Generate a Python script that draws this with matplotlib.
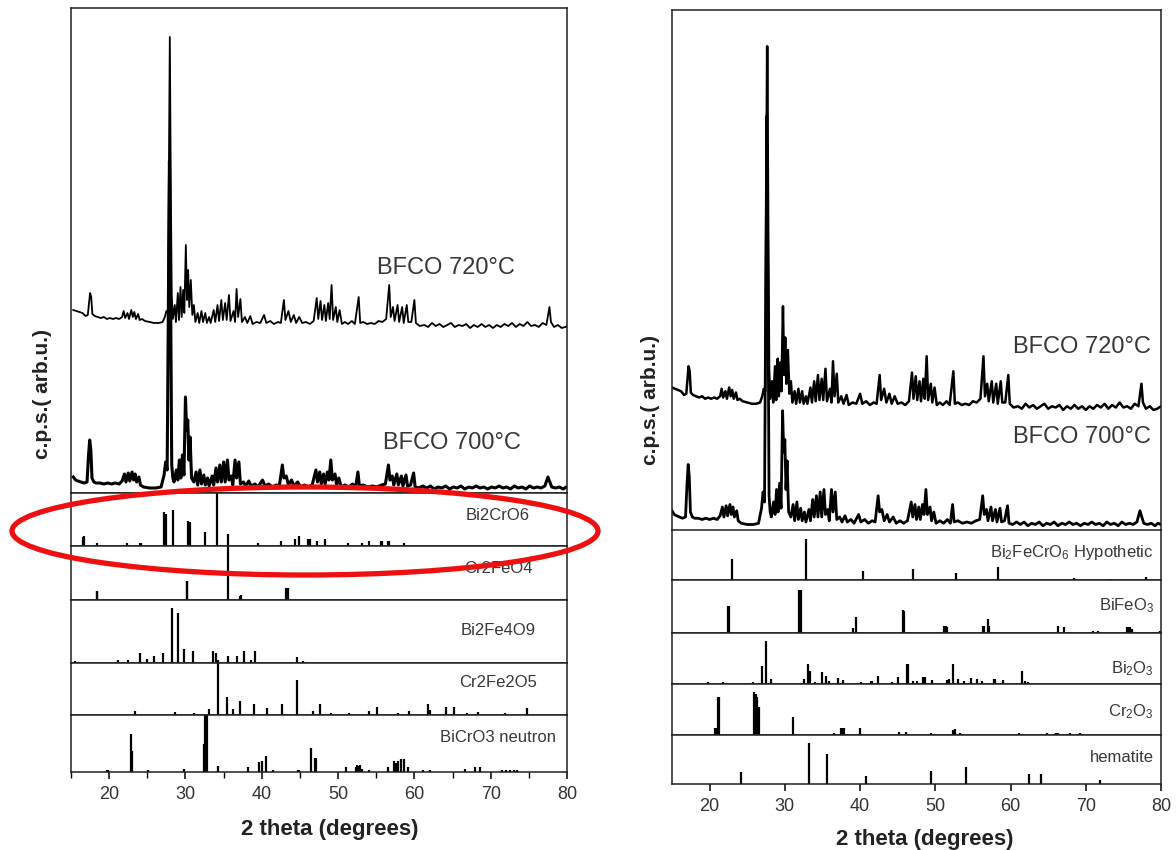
import matplotlib
matplotlib.use('Agg')
import matplotlib.pyplot as plt
from matplotlib.patches import Ellipse

plt.rcParams['font.family'] = ['Liberation Sans', 'DejaVu Sans']
plt.rcParams['mathtext.fontset'] = 'custom'
plt.rcParams['mathtext.rm'] = 'Liberation Sans'
plt.rcParams['mathtext.it'] = 'Liberation Sans:italic'

# ---- measured patterns (2theta, intensity in arb. units) ----
tth_720 = [15.0, 15.4, 15.8, 16.2, 16.6, 16.9, 17.2, 17.35, 17.5, 17.8, 18.2, 18.6, 19.0, 19.4, 19.8,
           20.2, 20.6, 21.0, 21.4, 21.6, 21.8, 22.1, 22.3, 22.6, 22.8, 23.0, 23.2, 23.5, 23.7, 24.0,
           24.4, 25.0, 25.6, 26.2, 26.7, 27.0, 27.2, 27.4, 27.65, 27.8, 27.9, 28.05, 28.3, 28.45, 28.7,
           28.85, 29.05, 29.2, 29.4, 29.55, 29.75, 29.9, 30.05, 30.2, 30.4, 30.6, 30.8, 31.0, 31.3, 31.5,
           31.8, 32.0, 32.3, 32.5, 32.8, 33.0, 33.4, 33.6, 33.9, 34.1, 34.4, 34.6, 34.9, 35.1, 35.4,
           35.6, 36.0, 36.2, 36.4, 36.6, 36.9, 37.1, 37.5, 37.8, 38.2, 38.5, 39.0, 39.5, 40.0, 40.3,
           40.8, 41.3, 41.8, 42.2, 42.6, 42.8, 43.2, 43.5, 43.9, 44.2, 44.6, 45.0, 45.5, 46.0, 46.5,
           46.9, 47.1, 47.4, 47.6, 47.9, 48.1, 48.4, 48.6, 48.85, 49.05, 49.4, 49.6, 49.9, 50.2, 50.6,
           51.0, 51.5, 51.9, 52.4, 52.6, 53.0, 53.5, 54.0, 54.5, 55.0, 55.5, 56.0, 56.4, 56.6, 56.9,
           57.1, 57.5, 57.7, 58.1, 58.3, 58.7, 58.9, 59.3, 59.7, 59.9, 60.4, 61.0, 61.5, 62.0, 62.5,
           63.0, 63.5, 64.0, 64.5, 65.0, 65.5, 66.0, 66.5, 67.0, 67.5, 68.0, 68.5, 69.0, 69.5, 70.0,
           70.5, 71.0, 71.5, 72.0, 72.5, 73.0, 73.5, 74.0, 74.5, 75.0, 75.5, 76.0, 76.5, 77.0, 77.4,
           77.6, 78.0, 78.5, 79.0, 79.5, 80.0]
int_720 = [15, 14, 13, 12, 9, 10, 32, 28, 11, 9, 8, 7, 8, 6, 7,
           6, 7, 6, 8, 14, 7, 12, 6, 15, 8, 13, 6, 11, 5, 6,
           4, 3, 2, 2, 3, 8, 14, 12, 288, 120, 30, 6, 20, 3, 32,
           5, 38, 8, 35, 12, 80, 25, 55, 18, 45, 10, 20, 3, 12, 2,
           14, 3, 12, 2, 8, 2, 15, 3, 20, 4, 25, 5, 22, 5, 30,
           4, 14, 3, 36, 8, 26, 3, 8, 2, 9, 1, 3, 2, 10, 2,
           4, 1, 3, 2, 25, 5, 14, 3, 10, 2, 8, 2, 3, 1, 4,
           27, 6, 24, 5, 20, 4, 22, 6, 40, 5, 18, 3, 15, 1, 3,
           1, 4, 1, 28, 2, 3, 1, 2, 1, 4, 3, 6, 40, 8, 18,
           4, 20, 3, 18, 2, 20, 3, 3, 25, 2, -1, 0, -2, 2, -1,
           1, -2, 0, 2, -2, 0, -1, 1, -3, 0, -2, 1, -2, 0, -3,
           0, -2, 1, -1, 2, -2, 1, -1, 3, -1, 0, -2, 2, 0, 18,
           3, -2, 0, -3, -2, 0]

tth_700 = [15.0, 15.3, 15.6, 16.0, 16.4, 16.8, 17.0, 17.15, 17.3, 17.45, 17.7, 18.0, 18.5, 19.0, 19.5,
           20.0, 20.5, 21.0, 21.4, 21.7, 21.9, 22.2, 22.4, 22.7, 22.9, 23.1, 23.3, 23.6, 23.8, 24.2,
           25.0, 25.8, 26.5, 26.9, 27.1, 27.3, 27.6, 27.75, 27.9, 28.05, 28.2, 28.5, 28.7, 28.9, 29.1,
           29.3, 29.5, 29.7, 29.85, 30.0, 30.15, 30.3, 30.5, 30.8, 31.1, 31.3, 31.6, 31.8, 32.1, 32.3,
           32.6, 32.8, 33.2, 33.4, 33.7, 33.9, 34.2, 34.4, 34.7, 34.9, 35.2, 35.4, 35.7, 35.9, 36.2,
           36.4, 36.7, 36.9, 37.3, 37.6, 38.0, 38.3, 38.8, 39.2, 39.8, 40.1, 40.6, 41.1, 41.6, 42.0,
           42.4, 42.6, 42.9, 43.2, 43.6, 43.9, 44.4, 44.8, 45.3, 45.8, 46.3, 46.8, 47.0, 47.3, 47.5,
           47.8, 48.0, 48.3, 48.5, 48.75, 48.95, 49.3, 49.5, 49.8, 50.1, 50.6, 51.1, 51.6, 52.0, 52.3,
           52.5, 53.0, 53.6, 54.2, 54.8, 55.4, 55.9, 56.3, 56.5, 56.8, 57.0, 57.4, 57.6, 58.0, 58.2,
           58.6, 58.8, 59.2, 59.6, 59.8, 60.3, 60.8, 61.3, 61.8, 62.3, 62.8, 63.3, 63.8, 64.3, 64.8,
           65.3, 65.8, 66.3, 66.8, 67.3, 67.8, 68.3, 68.8, 69.3, 69.8, 70.3, 70.8, 71.3, 71.8, 72.3,
           72.8, 73.3, 73.8, 74.3, 74.8, 75.3, 75.8, 76.3, 76.8, 77.2, 77.4, 77.7, 78.2, 78.7, 79.2,
           79.6, 80.0]
int_700 = [13, 10, 9, 8, 7, 8, 35, 50, 40, 12, 8, 7, 7, 6, 7,
           6, 7, 6, 9, 16, 8, 17, 9, 18, 10, 16, 8, 13, 5, 3,
           2, 2, 3, 15, 28, 20, 329, 200, 25, 12, 8, 20, 10, 30, 12,
           35, 15, 93, 60, 70, 30, 53, 12, 8, 18, 5, 20, 6, 15, 5,
           12, 4, 14, 5, 22, 8, 25, 8, 28, 8, 30, 10, 14, 5, 30,
           12, 28, 6, 8, 4, 9, 4, 6, 3, 10, 4, 6, 3, 5, 4,
           25, 12, 14, 5, 10, 4, 8, 3, 5, 3, 5, 20, 8, 18, 6,
           16, 6, 18, 10, 30, 10, 16, 5, 12, 3, 5, 3, 6, 3, 18,
           4, 5, 3, 4, 3, 5, 6, 25, 10, 14, 5, 16, 5, 14, 4,
           15, 4, 5, 17, 3, 2, 4, 2, 4, 1, 3, 2, 4, 1, 3,
           2, 4, 1, 3, 2, 4, 2, 3, 1, 3, 2, 4, 2, 3, 1,
           4, 2, 3, 1, 4, 2, 3, 2, 4, 13, 9, 3, 2, 3, 1,
           3, 2]

# ---- reference stick patterns (2theta, relative height) ----
bi2cro6_pos = [16.6, 16.75, 18.4, 22.3, 24.0, 24.2, 27.2, 27.45, 28.35, 30.35, 30.6, 32.6, 34.1, 35.6,
               39.55, 42.5, 44.35, 44.9, 46.1, 46.3, 47.2, 48.3, 51.3, 53.2, 54.0, 55.6, 55.8, 56.5,
               56.7, 58.7]
bi2cro6_h = [0.17, 0.19, 0.06, 0.06, 0.06, 0.06, 0.64, 0.61, 0.67, 0.48, 0.45, 0.26, 1.0, 0.22,
             0.06, 0.10, 0.13, 0.19, 0.13, 0.13, 0.10, 0.13, 0.06, 0.06, 0.10, 0.10, 0.10, 0.10,
             0.10, 0.06]
cr2feo4_pos = [18.35, 18.45, 30.15, 30.25, 35.6, 37.1, 37.3, 43.15, 43.3, 43.45]
cr2feo4_h = [0.16, 0.16, 0.35, 0.35, 1.0, 0.08, 0.10, 0.23, 0.23, 0.23]
bi2fe4o9_pos = [15.5, 21.2, 22.5, 24.1, 24.9, 25.9, 27.0, 28.3, 29.05, 29.85, 31.05, 33.6, 34.0, 34.3,
                35.6, 36.8, 37.7, 38.6, 39.1, 44.6, 45.4]
bi2fe4o9_h = [0.03, 0.05, 0.05, 0.16, 0.07, 0.11, 0.16, 0.87, 0.80, 0.22, 0.19, 0.19, 0.16, 0.04,
              0.11, 0.11, 0.19, 0.05, 0.19, 0.09, 0.03]
cr2fe2o5_pos = [23.4, 28.6, 31.1, 33.1, 34.3, 35.4, 36.2, 37.2, 39.0, 40.65, 42.7, 44.6, 46.7, 47.6,
                49.1, 51.4, 54.05, 55.1, 57.8, 59.3, 61.8, 62.0, 64.1, 65.25, 66.9, 68.3, 71.9, 74.8]
cr2fe2o5_h = [0.08, 0.06, 0.03, 0.11, 1.0, 0.35, 0.11, 0.26, 0.22, 0.13, 0.22, 0.67, 0.08, 0.22,
              0.03, 0.03, 0.08, 0.16, 0.03, 0.08, 0.22, 0.10, 0.16, 0.16, 0.03, 0.06, 0.03, 0.13]
bicro3_pos = [19.7, 19.9, 22.8, 23.0, 25.1, 29.8, 32.4, 32.55, 32.7, 32.85, 34.2, 38.2, 39.65, 40.0,
              40.5, 41.5, 44.7, 44.9, 46.5, 46.95, 47.1, 51.0, 52.3, 52.5, 52.7, 52.9, 53.1, 54.05,
              56.5, 57.3, 57.6, 57.8, 58.2, 58.6, 59.1, 61.1, 62.0, 66.6, 67.9, 68.6, 71.5, 72.0,
              72.5, 73.0, 73.4]
bicro3_h = [0.04, 0.04, 0.66, 0.36, 0.04, 0.06, 0.50, 1.0, 1.0, 1.0, 0.10, 0.08, 0.18, 0.19,
            0.28, 0.04, 0.04, 0.04, 0.42, 0.25, 0.25, 0.08, 0.08, 0.12, 0.10, 0.12, 0.06, 0.04,
            0.08, 0.19, 0.15, 0.19, 0.22, 0.22, 0.08, 0.04, 0.04, 0.05, 0.08, 0.08, 0.03, 0.03,
            0.03, 0.03, 0.03]

bfcro6_pos = [22.95, 32.75, 40.4, 47.0, 52.8, 58.3, 68.4, 73.2, 78.0]
bfcro6_h = [0.43, 0.82, 0.18, 0.23, 0.14, 0.26, 0.05, 0.03, 0.07]
bifeo3_pos = [22.45, 22.55, 31.85, 32.0, 32.15, 39.1, 39.5, 45.75, 45.9, 51.2, 51.4, 51.6, 56.3, 56.45,
              57.0, 57.15, 66.3, 67.1, 70.9, 71.6, 75.5, 75.7, 75.9, 76.2, 79.9]
bifeo3_h = [0.51, 0.51, 0.82, 0.82, 0.82, 0.10, 0.30, 0.44, 0.42, 0.13, 0.13, 0.11, 0.14, 0.14,
            0.27, 0.14, 0.14, 0.11, 0.04, 0.04, 0.11, 0.11, 0.11, 0.07, 0.04]
bi2o3_pos = [19.8, 21.75, 25.8, 27.0, 27.5, 28.1, 32.5, 33.1, 33.3, 34.0, 35.0, 35.5, 35.9, 37.1,
             37.7, 40.1, 41.4, 41.6, 42.4, 44.2, 45.1, 46.2, 46.4, 47.0, 47.6, 48.4, 48.6, 49.5,
             51.6, 51.8, 52.35, 53.0, 53.75, 54.75, 55.5, 56.2, 57.8, 58.0, 59.0, 61.5, 61.9, 62.3]
bi2o3_h = [0.04, 0.03, 0.04, 0.36, 0.85, 0.10, 0.09, 0.39, 0.26, 0.03, 0.23, 0.16, 0.05, 0.11,
           0.07, 0.03, 0.05, 0.05, 0.16, 0.03, 0.13, 0.39, 0.39, 0.05, 0.05, 0.13, 0.13, 0.07,
           0.07, 0.10, 0.39, 0.10, 0.05, 0.11, 0.10, 0.05, 0.10, 0.10, 0.07, 0.26, 0.05, 0.03]
cr2o3_pos = [20.75, 20.9, 21.1, 21.25, 25.95, 26.1, 26.3, 26.5, 31.1, 36.6, 37.5, 37.7, 37.9, 40.0,
             45.2, 46.1, 49.4, 52.3, 52.6, 53.3, 61.1, 64.9, 66.1, 66.3, 67.9, 69.2]
cr2o3_h = [0.13, 0.13, 0.74, 0.74, 0.84, 0.80, 0.74, 0.54, 0.36, 0.03, 0.13, 0.13, 0.13, 0.13,
           0.05, 0.06, 0.03, 0.10, 0.11, 0.03, 0.03, 0.03, 0.03, 0.03, 0.03, 0.04]
hematite_pos = [24.15, 33.15, 35.6, 40.85, 49.45, 54.05, 62.45, 64.0, 71.9]
hematite_h = [0.24, 0.84, 0.61, 0.17, 0.27, 0.34, 0.20, 0.20, 0.08]

left_refs = [('Bi2CrO6', bi2cro6_pos, bi2cro6_h),
             ('Cr2FeO4', cr2feo4_pos, cr2feo4_h),
             ('Bi2Fe4O9', bi2fe4o9_pos, bi2fe4o9_h),
             ('Cr2Fe2O5', cr2fe2o5_pos, cr2fe2o5_h),
             ('BiCrO3 neutron', bicro3_pos, bicro3_h)]
right_refs = [('Bi$_2$FeCrO$_6$ Hypothetic', bfcro6_pos, bfcro6_h),
              ('BiFeO$_3$', bifeo3_pos, bifeo3_h),
              ('Bi$_2$O$_3$', bi2o3_pos, bi2o3_h),
              ('Cr$_2$O$_3$', cr2o3_pos, cr2o3_h),
              ('hematite', hematite_pos, hematite_h)]

# the left-hand figure's scans sit a little higher in 2theta
left_shift = 0.3

W, H = 1176, 850
fig = plt.figure(figsize=(W / 100, H / 100), dpi=100)
TXT = '#383838'


def add_ax(l, t, r, b):
    return fig.add_axes([l / W, 1 - b / H, (r - l) / W, (b - t) / H])


def frame(ax):
    ax.set_xlim(15, 80)
    ax.set_yticks([])
    ax.set_xticks([])
    for s in ax.spines.values():
        s.set_linewidth(1.1)
        s.set_color('#202020')


def ftext(x, y, s, **kw):
    fig.text(x / W, 1 - y / H, s, ha='center', va='center', **kw)


def panel(l, r, top, bottom_sample, bounds, refs, off720, off700, yscale, lw720, lw700, shift,
          label_x, label_fr, label_ha, sample_lab, minor, show_bottom_spine):
    ax = add_ax(l, top, r, bottom_sample)
    frame(ax)
    ax.plot([t + shift for t in tth_720], [v + off720 for v in int_720], color='k', lw=lw720)
    ax.plot([t + shift for t in tth_700], [v + off700 for v in int_700], color='k', lw=lw700)
    ax.set_ylim(0, (bottom_sample - top) / yscale)
    if not show_bottom_spine:
        ax.spines['bottom'].set_visible(False)
    for (sx, sy, s) in sample_lab:
        ftext(sx, sy, s, fontsize=17, color=TXT)
    for k, (name, pos, h) in enumerate(refs):
        t, b = bounds[k], bounds[k + 1]
        sax = add_ax(l, t, r, b)
        frame(sax)
        sax.set_ylim(0, 1.0)
        sax.vlines(pos, 0, h, color='k', lw=1.6)
        sax.text(label_x, label_fr[k], name, transform=sax.transAxes, ha=label_ha, va='center',
                 fontsize=12, color=TXT)
        if k == len(refs) - 1:
            sax.set_xticks(range(20, 81, 10))
            sax.tick_params(axis='x', direction='out', length=5, width=1.1, labelsize=13,
                            labelcolor='#333333', pad=5)
            if minor:
                sax.set_xticks(range(15, 80, 10), minor=True)
                sax.tick_params(axis='x', which='minor', direction='out', length=4, width=1.0)


# left figure
panel(71, 567, 8, 493, [493, 546, 600, 663, 715, 772], left_refs, 168, 3, 1.0, 1.3, 2.2, left_shift,
      0.861, [0.58, 0.59, 0.52, 0.62, 0.60], 'center',
      [(446, 268, 'BFCO 720°C'), (452, 443, 'BFCO 700°C')], True, True)
fig.text(43 / W, 1 - 394 / H, 'c.p.s.( arb.u.)', rotation=90, ha='center', va='center',
         fontsize=15, fontweight='bold', color='#222222')
ftext(330, 829, '2 theta (degrees)', fontsize=16, fontweight='bold', color='#222222')

# right figure
panel(672, 1161, 10, 530, [530, 580, 633, 684, 735, 784], right_refs, 99, 2.4, 1.25, 1.8, 2.0, 0.0,
      0.985, [0.55, 0.52, 0.31, 0.45, 0.55], 'right',
      [(1082, 347, 'BFCO 720°C'), (1082, 437, 'BFCO 700°C')], False, False)
fig.text(650 / W, 1 - 400 / H, 'c.p.s.( arb.u.)', rotation=90, ha='center', va='center',
         fontsize=15, fontweight='bold', color='#222222')
ftext(925, 840, '2 theta (degrees)', fontsize=16, fontweight='bold', color='#222222')

# red ellipse highlighting Bi2CrO6
ov = fig.add_axes([0, 0, 1, 1])
ov.set_xlim(0, W)
ov.set_ylim(H, 0)
ov.axis('off')
ov.set_zorder(10)
ov.add_patch(Ellipse((305, 531), 586, 88, fill=False, ec='#ee1010', lw=3.8))

fig.savefig('out.png', dpi=100)
